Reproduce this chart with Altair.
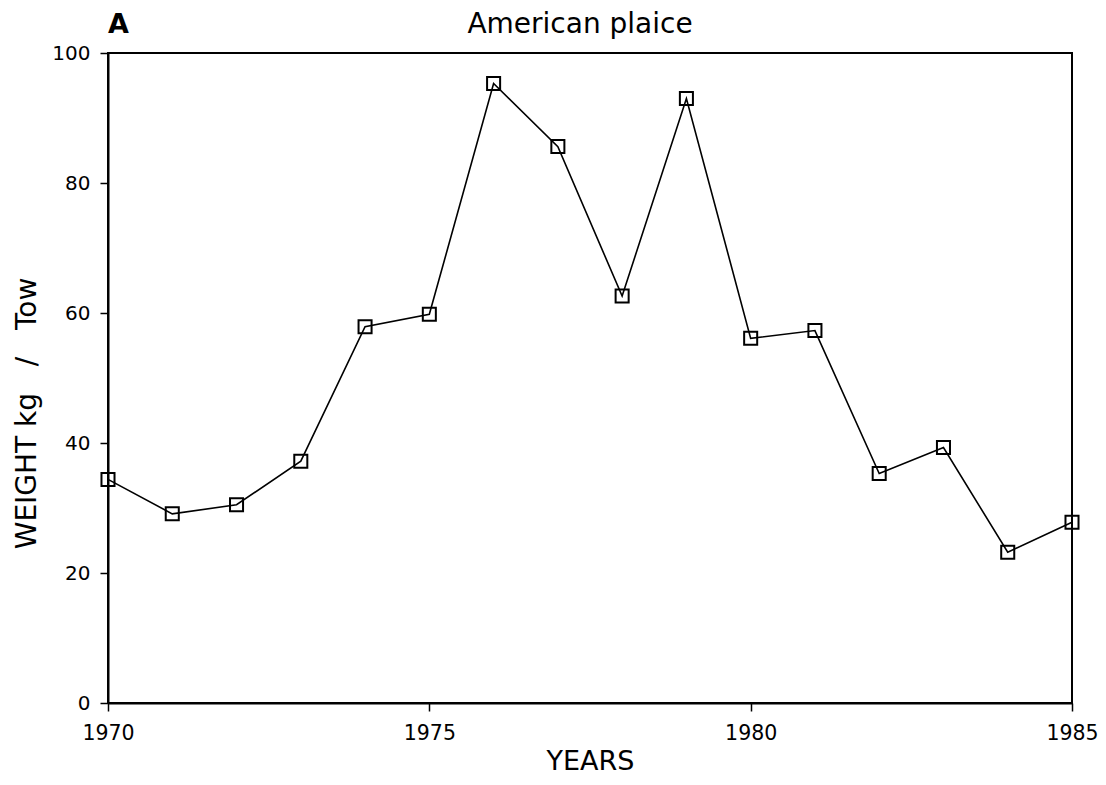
import altair as alt
import pandas as pd

years = [1970, 1971, 1972, 1973, 1974, 1975, 1976, 1977, 1978, 1979, 1980, 1981, 1982, 1983, 1984, 1985]
weight = [34.4, 29.1, 30.5, 37.2, 57.9, 59.8, 95.3, 85.6, 62.6, 93.0, 56.1, 57.3, 35.3, 39.3, 23.2, 27.8]
x_ticks = [1970, 1975, 1980, 1985]
y_ticks = [0, 20, 40, 60, 80, 100]
panel_letter = ["A"]
panel_title = ["American plaice"]
NB = "\u00a0"
y_title = "WEIGHT" + NB + "kg" + NB * 3 + "/" + NB * 3 + "Tow"

df = pd.DataFrame({"year": years, "weight": weight})
FONT = "DejaVu Sans"

x = alt.X("year:Q", scale=alt.Scale(domain=[1970, 1985], nice=False, zero=False),
          axis=alt.Axis(values=x_ticks, format="d", title="YEARS", grid=False,
                        labelFontSize=20.5, titleFontSize=27, titleFontWeight="normal",
                        labelFont=FONT, titleFont=FONT, labelColor="black", titleColor="black",
                        domainColor="black", tickColor="black", tickSize=8, domainWidth=2,
                        tickWidth=1.5, labelPadding=12, titleBaseline="alphabetic",
                        titleY=66, labelFlush=False))
y = alt.Y("weight:Q", scale=alt.Scale(domain=[0, 100], nice=False),
          axis=alt.Axis(values=y_ticks, title=y_title, grid=False,
                        labelFontSize=20, titleFontSize=28, titleFontWeight="normal",
                        labelFont=FONT, titleFont=FONT, labelColor="black", titleColor="black",
                        domainColor="black", tickColor="black", tickSize=8, domainWidth=2,
                        tickWidth=1.5, labelPadding=10, titleBaseline="alphabetic",
                        titleX=-73, titleY=360, titleAngle=270, titleAlign="center"))

line = alt.Chart(df).mark_line(color="black", strokeWidth=1.6).encode(x=x, y=y)
pts = alt.Chart(df).mark_point(shape="square", filled=False, color="black", size=170,
                               strokeWidth=2, opacity=1).encode(x=x, y=y)
label_a = alt.Chart(pd.DataFrame({"t": panel_letter})).mark_text(
    font=FONT, fontSize=27, fontWeight="bold", align="left", baseline="alphabetic", color="black"
).encode(text="t:N", x=alt.value(0), y=alt.value(-20))
title_t = alt.Chart(pd.DataFrame({"t": panel_title})).mark_text(
    font=FONT, fontSize=28, fontWeight="normal", align="center", baseline="alphabetic", color="black"
).encode(text="t:N", x=alt.value(472), y=alt.value(-20))

chart = alt.layer(line, pts, label_a, title_t).properties(
    width=964, height=650,
    background="white",
    autosize=alt.AutoSizeParams(type="none"),
    padding={"left": 100, "top": 45, "right": 26, "bottom": 74},
).configure_view(stroke="black", strokeWidth=2)

chart.save("out.html", embed_options={"renderer": "svg", "actions": False})
